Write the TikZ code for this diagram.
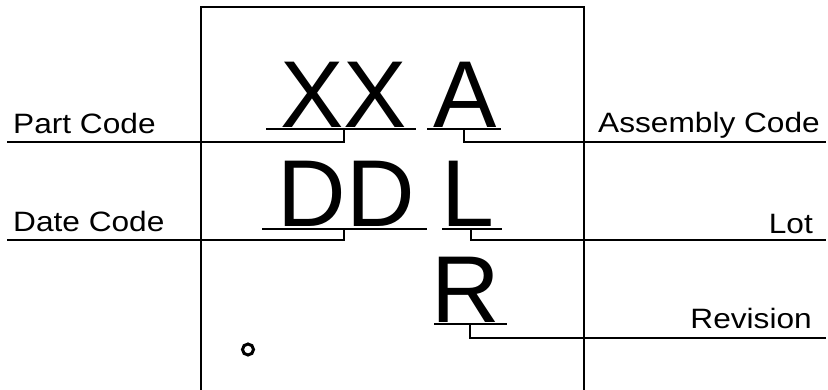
\documentclass[tikz,border=0pt]{standalone}
\usepackage{fontspec}
\setmainfont{Liberation Sans}
\newfontfamily\labelfont[FakeStretch=1.13]{Liberation Sans}
\begin{document}
\begin{tikzpicture}[x=1pt,y=-1pt,
  big/.style={inner sep=0pt,font=\fontsize{95}{95}\selectfont,anchor=base},
  lbl/.style={inner sep=0pt,font=\labelfont\fontsize{28}{28}\selectfont},
  wire/.style={line width=2pt},
  uline/.style={line width=1.5pt}]
\useasboundingbox (0,0) rectangle (828,389);
% package outline (open at bottom)
\draw[wire] (201,395) -- (201,7) -- (584,7) -- (584,395);
% marking characters
\node[big] (xx) at (343.5,127) {XX};
\node[big] (a)  at (465.5,127) {A};
\node[big] (dd) at (346.5,226) {DD};
\node[big] (l)  at (468,226) {L};
\node[big] (r)  at (466,322) {R};
% labels
\node[lbl,anchor=base west] (pc)  at (13,133) {Part Code};
\node[lbl,anchor=base west] (dc)  at (13,231) {Date Code};
\node[lbl,anchor=base east] (ac)  at (820,132) {Assembly Code};
\node[lbl,anchor=base east] (lot) at (813,233) {Lot};
\node[lbl,anchor=base east] (rev) at (812,328) {Revision};
% underline coordinates
\coordinate (xxa) at (266,129); \coordinate (xxb) at (416,129); \coordinate (xxt) at (344,129);
\coordinate (aa)  at (427,129); \coordinate (ab)  at (501,129); \coordinate (at)  at (464,129);
\coordinate (dda) at (262,229); \coordinate (ddb) at (427,229); \coordinate (ddt) at (344,229);
\coordinate (la)  at (442,229); \coordinate (lb)  at (502,229); \coordinate (lt)  at (471,229);
\coordinate (ra)  at (434,324); \coordinate (rb)  at (507,324); \coordinate (rt)  at (470,324);
% leader line ends
\coordinate (pce) at (7,142);
\coordinate (ace) at (826,142);
\coordinate (dce) at (7,240);
\coordinate (lte) at (826,240);
\coordinate (rve) at (826,338);
% underlines
\draw[uline] (xxa) -- (xxb);
\draw[uline] (aa) -- (ab);
\draw[uline] (dda) -- (ddb);
\draw[uline] (la) -- (lb);
\draw[uline] (ra) -- (rb);
% leaders
\draw[wire] (xxt) |- (pce);
\draw[wire] (at) |- (ace);
\draw[wire] (ddt) |- (dce);
\draw[wire] (lt) |- (lte);
\draw[wire] (rt) |- (rve);
% pin 1 mark
\node[draw,circle,line width=3pt,minimum size=11pt,inner sep=0pt] (pin) at (248,349.5) {};
\end{tikzpicture}
\end{document}
